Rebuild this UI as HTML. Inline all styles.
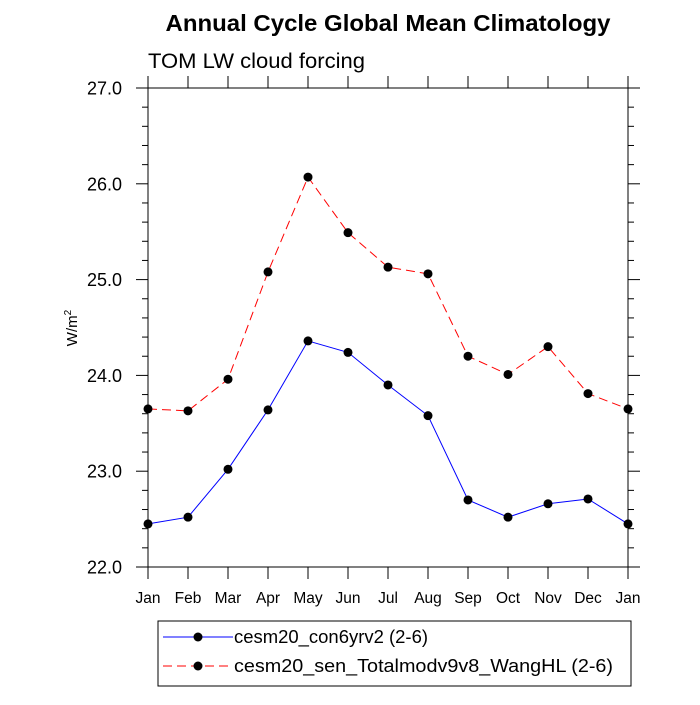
<!DOCTYPE html>
<html><head><meta charset="utf-8"><style>
body{margin:0;background:#fff;}
svg text{font-family:"Liberation Sans",sans-serif;}
</style></head><body>
<svg id="chart" width="700" height="700" viewBox="0 0 700 700" xmlns="http://www.w3.org/2000/svg">
<text x="388" y="31" font-size="23.5" font-weight="bold" text-anchor="middle" textLength="445" lengthAdjust="spacingAndGlyphs">Annual Cycle Global Mean Climatology</text>
<text x="148" y="68" font-size="21" textLength="217" lengthAdjust="spacingAndGlyphs">TOM LW cloud forcing</text>
<text transform="translate(77,328) rotate(-90)" font-size="15" text-anchor="middle">W/m<tspan dy="-6" font-size="10">2</tspan></text>
<g id="axes"></g>
<g id="series"></g>
<g>
<rect x="158" y="621" width="473" height="65" fill="none" stroke="#000" stroke-width="1"/>
<line x1="163" y1="637" x2="233" y2="637" stroke="#00f" stroke-width="1"/>
<circle cx="198" cy="637" r="4.5" fill="#000"/>
<text x="234" y="643" font-size="18.5" textLength="194" lengthAdjust="spacingAndGlyphs">cesm20_con6yrv2 (2-6)</text>
<line x1="163" y1="666" x2="233" y2="666" stroke="#f00" stroke-width="1" stroke-dasharray="9,5"/>
<circle cx="198" cy="666" r="4.5" fill="#000"/>
<text x="234" y="672" font-size="18.5" textLength="379" lengthAdjust="spacingAndGlyphs">cesm20_sen_Totalmodv9v8_WangHL (2-6)</text>
</g>
</svg>
<script>
const months=["Jan","Feb","Mar","Apr","May","Jun","Jul","Aug","Sep","Oct","Nov","Dec","Jan"];
const yTicks=["22.0","23.0","24.0","25.0","26.0","27.0"];
const conValues=[22.45,22.52,23.02,23.64,24.36,24.24,23.90,23.58,22.70,22.52,22.66,22.71,22.45];
const senValues=[23.65,23.63,23.96,25.08,26.07,25.49,25.13,25.06,24.20,24.01,24.30,23.81,23.65];
const X0=148,X1=628,Y0=567,Y1=88,YMIN=22,YMAX=27;
const NS="http://www.w3.org/2000/svg";
function xs(i){return X0+(X1-X0)*i/(months.length-1);}
function ys(v){return Y0-(v-YMIN)/(YMAX-YMIN)*(Y0-Y1);}
function mk(tag,attrs,parent){const e=document.createElementNS(NS,tag);for(const k in attrs)e.setAttribute(k,attrs[k]);parent.appendChild(e);return e;}
const axes=document.getElementById('axes');
const frame=mk('rect',{x:X0,y:Y1,width:X1-X0,height:Y0-Y1,fill:'none',stroke:'#000','stroke-width':1},axes);


months.forEach((m,i)=>{
  const x=xs(i);
  mk('line',{x1:x,y1:Y0,x2:x,y2:Y0+12,stroke:'#000'},axes);
  mk('line',{x1:x,y1:Y1,x2:x,y2:Y1-12,stroke:'#000'},axes);
  const t=mk('text',{x:x,y:Y0+36,'font-size':15.5,'text-anchor':'middle'},axes);
  t.textContent=m;
  
  
});
for(let v=YMIN;v<=YMAX+1e-9;v+=0.2){
  const y=ys(v);const major=Math.abs(v-Math.round(v))<1e-6;const L=major?12:6;
  mk('line',{x1:X0,y1:y,x2:X0-L,y2:y,stroke:'#000'},axes);
  mk('line',{x1:X1,y1:y,x2:X1+L,y2:y,stroke:'#000'},axes);
}
yTicks.forEach(s=>{
  const t=mk('text',{x:122,y:ys(parseFloat(s))+6.5,'font-size':18,'text-anchor':'end'},axes);
  t.textContent=s;
  
  
});
const series=document.getElementById('series');
function draw(vals,color,dash,name){
  const pts=vals.map((v,i)=>xs(i)+','+ys(v)).join(' ');
  const pl=mk('polyline',{points:pts,fill:'none',stroke:color,'stroke-width':1},series);
  if(dash)pl.setAttribute('stroke-dasharray',dash);
  
  
  vals.forEach((v,i)=>{
    const c=mk('circle',{cx:xs(i),cy:ys(v),r:4.5,fill:'#000'},series);
    
    
  });
}
draw(conValues,'#00f',null,'con6yrv2');
draw(senValues,'#f00','9,5','sen-wanghl');
</script>
</body></html>
